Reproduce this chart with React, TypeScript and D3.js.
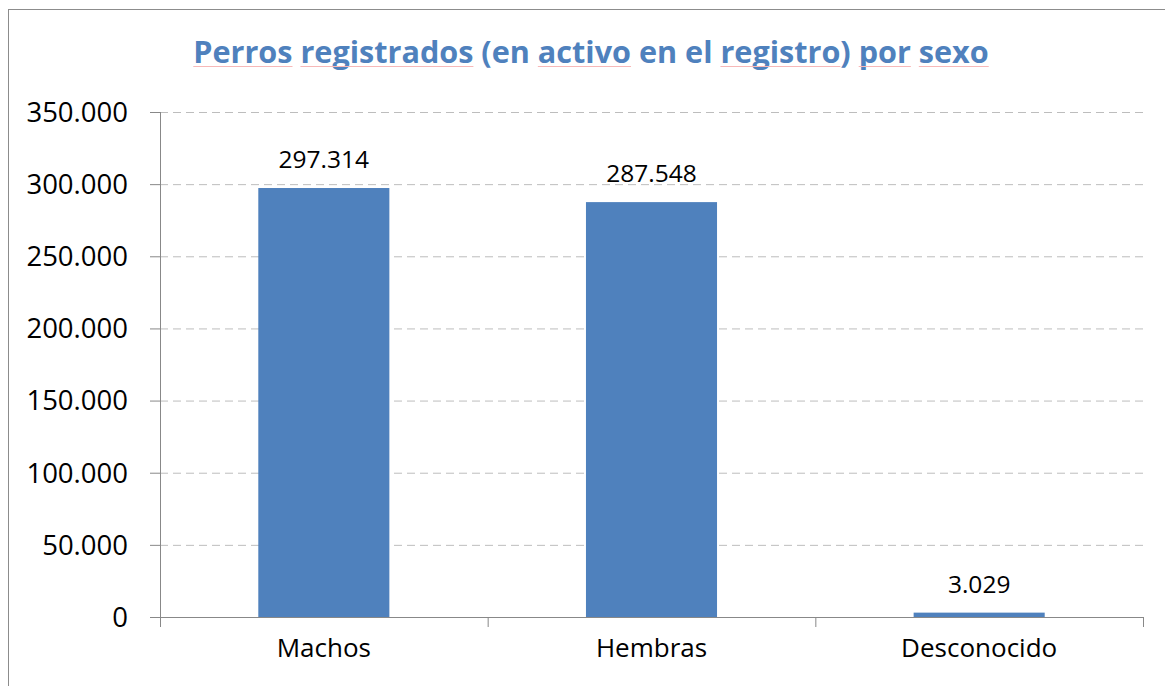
import React, { useLayoutEffect, useRef, useState } from "react";
import * as d3 from "d3";

const categories = ["Machos", "Hembras", "Desconocido"];
const values = [297314, 287548, 3029];
const valueLabels = ["297.314", "287.548", "3.029"];
const yTicks = [0, 50000, 100000, 150000, 200000, 250000, 300000, 350000];
const yTickLabels = ["0", "50.000", "100.000", "150.000", "200.000", "250.000", "300.000", "350.000"];
const title = "Perros registrados (en activo en el registro) por sexo";
const flaggedWords = ["Perros", "registrados", "activo", "registro", "por", "sexo"];

const W = 1165;
const H = 686;
const left = 160;
const right = 1143;
const top = 112;
const bottom = 617;
const FONT = "'Open Sans', 'Liberation Sans', sans-serif";

export default function App() {
  const x = d3.scaleBand<string>().domain(categories).range([left, right]).paddingInner(0.6).paddingOuter(0.3);
  const y = d3.scaleLinear().domain([0, 350000]).range([bottom, top]);
  const step = (right - left) / categories.length;
  const boundaries = d3.range(categories.length + 1).map((i) => left + i * step);

  const titleRef = useRef<SVGTextElement>(null);
  const [marks, setMarks] = useState<{ x1: number; x2: number }[]>([]);

  useLayoutEffect(() => {
    const el = titleRef.current;
    if (!el) return;
    const res: { x1: number; x2: number }[] = [];
    let from = 0;
    flaggedWords.forEach((w) => {
      const idx = title.indexOf(w, from);
      if (idx < 0) return;
      try {
        const s = el.getStartPositionOfChar(idx).x;
        const e = el.getEndPositionOfChar(idx + w.length - 1).x;
        res.push({ x1: s, x2: e });
      } catch (err) {}
      from = idx + w.length;
    });
    setMarks(res);
  }, []);

  return (
    <svg width={W} height={H} style={{ position: "absolute", left: 0, top: 0, background: "#fff" }}>
      <rect x={8.5} y={9.5} width={W + 10} height={H + 10} fill="#fff" stroke="#8c8c8c" strokeWidth={1} />
      <text ref={titleRef} x={591} y={63} textAnchor="middle" fontFamily={FONT} fontWeight="bold" fontSize={30.6} fill="#4F81BD">
        {title}
      </text>
      {marks.map((m, i) => (
        <line key={i} x1={m.x1} x2={m.x2} y1={66.5} y2={66.5} stroke="#f7b8b8" strokeWidth={1} />
      ))}
      {yTicks.map((t, i) => (
        <g key={t}>
          {t > 0 && (
            <line x1={left} x2={right} y1={y(t) + 0.5} y2={y(t) + 0.5} stroke="#bdbdbd" strokeWidth={1} strokeDasharray="8,5" />
          )}
          <line x1={left - 10} x2={left} y1={y(t) + 0.5} y2={y(t) + 0.5} stroke="#888" strokeWidth={1} />
          <text x={128} y={y(t)} dy="0.36em" textAnchor="end" fontFamily={FONT} fontSize={27.5} fill="#000">
            {yTickLabels[i]}
          </text>
        </g>
      ))}
      {categories.map((c, i) => (
        <g key={c}>
          <rect x={x(c)!} y={y(values[i])} width={x.bandwidth()} height={bottom - y(values[i])} fill="#4F81BD" />
          <text x={x(c)! + x.bandwidth() / 2} y={y(values[i]) - 20} textAnchor="middle" fontFamily={FONT} fontSize={24.5} fill="#000">
            {valueLabels[i]}
          </text>
          <text x={x(c)! + x.bandwidth() / 2} y={657} textAnchor="middle" fontFamily={FONT} fontSize={26} fill="#000">
            {c}
          </text>
        </g>
      ))}
      <line x1={left + 0.5} x2={left + 0.5} y1={top} y2={bottom} stroke="#888" strokeWidth={1} />
      <line x1={left} x2={right} y1={bottom + 0.5} y2={bottom + 0.5} stroke="#888" strokeWidth={1} />
      {boundaries.map((b, i) => (
        <line key={i} x1={b + 0.5} x2={b + 0.5} y1={bottom} y2={bottom + 10} stroke="#888" strokeWidth={1} />
      ))}
    </svg>
  );
}
